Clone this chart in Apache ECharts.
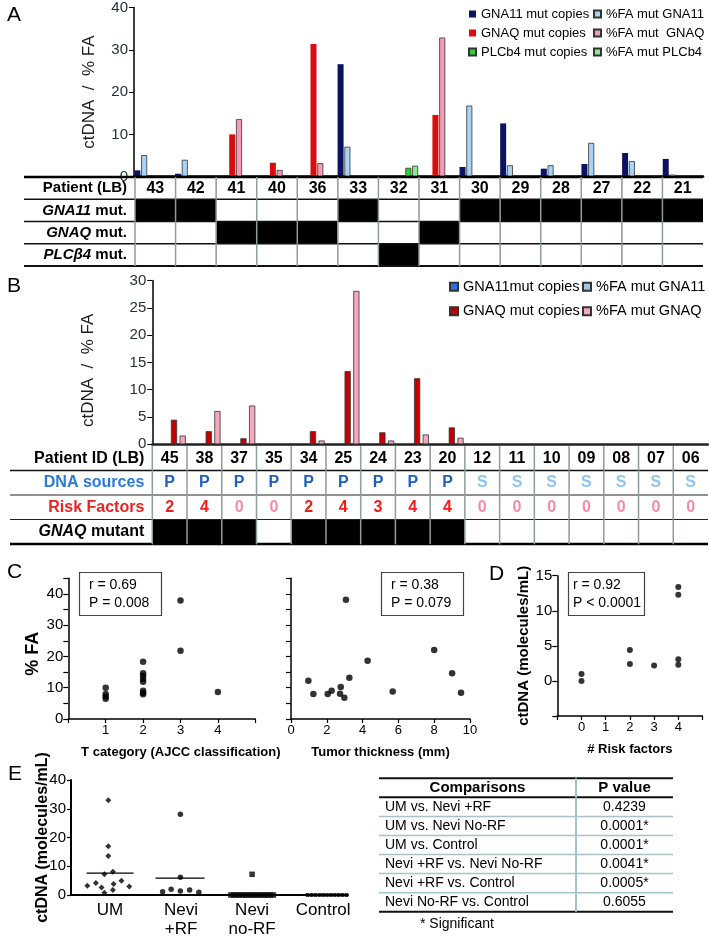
<!DOCTYPE html>
<html><head><meta charset="utf-8">
<script src="https://cdn.jsdelivr.net/npm/echarts@6/dist/echarts.min.js"></script>
<style>html,body{margin:0;padding:0;background:#fff}#c{width:709px;height:939px}</style>
</head><body><div id="c"></div>
<script>
const FONT = '"Liberation Sans", Arial, Helvetica, sans-serif';

// ---------- Panel A data ----------
const patientsA = ['43','42','41','40','36','33','32','31','30','29','28','27','22','21'];
const gna11CopiesA = [1.5,0.7,null,null,null,26.6,null,null,2.3,12.6,1.9,3.0,5.6,4.2];
const gna11FaA     = [5.1,4.0,null,null,null,7.1,null,null,16.8,2.7,2.7,8.0,3.7,0.5];
const gnaqCopiesA  = [null,null,10.0,3.3,31.4,null,null,14.6,null,null,null,null,null,null];
const gnaqFaA      = [null,null,13.6,1.6,3.2,null,null,32.9,null,null,null,null,null,null];
const plcCopiesA   = [null,null,null,null,null,null,2.1,null,null,null,null,null,null,null];
const plcFaA       = [null,null,null,null,null,null,2.6,null,null,null,null,null,null,null];
const gna11MutA = [1,1,0,0,0,1,0,0,1,1,1,1,1,1];
const gnaqMutA  = [0,0,1,1,1,0,0,1,0,0,0,0,0,0];
const plcMutA   = [0,0,0,0,0,0,1,0,0,0,0,0,0,0];
const rowLabelsA = ['Patient (LB)','{i|GNA11} mut.','{i|GNAQ} mut.','{i|PLCβ4} mut.'];

// ---------- Panel B data ----------
const patientsB = ['45','38','37','35','34','25','24','23','20','12','11','10','09','08','07','06'];
const dnaSourceB = ['P','P','P','P','P','P','P','P','P','S','S','S','S','S','S','S'];
const riskFactorsB = [2,4,0,0,2,4,3,4,4,0,0,0,0,0,0,0];
const gnaqMutB = [1,1,1,0,1,1,1,1,1,0,0,0,0,0,0,0];
const gna11CopiesB = [null,null,null,null,null,null,null,null,null,null,null,null,null,null,null,null];
const gna11FaB     = [null,null,null,null,null,null,null,null,null,null,null,null,null,null,null,null];
const gnaqCopiesB  = [4.5,2.4,1.1,null,2.4,13.4,2.2,12.1,3.1,null,null,null,null,null,null,null];
const gnaqFaB      = [1.6,6.1,7.1,null,0.7,28.1,0.7,1.8,1.2,null,null,null,null,null,null,null];
const rowLabelsB = ['Patient ID (LB)','DNA sources','Risk Factors','{i|GNAQ} mutant'];

// ---------- Panel C data ----------
const tCategoryPts = [[1,10],[1,8],[1,7.2],[1,6.5],[2,18.3],[2,14.6],[2,13.8],[2,12.8],[2,11.9],[2,9.0],[2,8.4],[2,7.9],[3,37.9],[3,21.8],[4,8.6]];
const thicknessPts = [[0.97,12.2],[1.25,8.0],[2.05,8.0],[2.27,9.0],[2.78,10.2],[2.74,8.1],[2.98,6.8],[3.07,38.1],[3.26,13.2],[4.28,18.6],[5.68,8.8],[8.0,22.1],[9.0,14.6],[9.5,8.4]];

// ---------- Panel D data ----------
const riskPts = [[0,1.0],[0,0],[2,4.4],[2,2.4],[3,2.2],[4,13.4],[4,12.3],[4,3.1],[4,2.3]];

// ---------- Panel E data ----------
const groupsE = ['UM','Nevi\n+RF','Nevi\nno-RF','Control'];
const umPts = [[0.975,33.0],[0.975,17.0],[0.975,13.6],[1.04,8.1],[0.92,7.2],[0.68,3.2],[0.80,4.2],[0.88,2.6],[1.05,3.8],[1.16,5.0],[1.27,3.0],[1.04,1.7],[0.92,0.8]];
const neviRfPts = [[1.99,28.1],[1.99,6.2],[1.74,1.1],[1.86,2.0],[1.99,1.4],[2.12,1.7],[2.25,1.0]];
const neviNoRfPts = [[3.0,7.2],[2.7,0],[2.74,0],[2.78,0],[2.82,0],[2.86,0],[2.9,0],[2.94,0],[2.98,0],[3.02,0],[3.06,0],[3.1,0],[3.14,0],[3.18,0],[3.22,0],[3.26,0],[3.3,0]];
const controlPts = [[3.78,0],[3.835,0],[3.89,0],[3.945,0],[4.0,0],[4.055,0],[4.11,0],[4.165,0],[4.22,0],[4.275,0],[4.33,0]];
const meanUM = 7.6, meanNeviRf = 5.9;
const comparisons = ['UM vs. Nevi +RF','UM vs. Nevi No-RF','UM vs. Control','Nevi +RF vs. Nevi No-RF','Nevi +RF vs. Control','Nevi No-RF vs. Control'];
const pValues = ['0.4239','0.0001*','0.0001*','0.0041*','0.0005*','0.6055'];

// ---------- helpers ----------
function cellRenderer(cells){
  return function(params, api){
    const c = cells[params.dataIndex];
    const a = api.coord([c.x0, c.r]), b = api.coord([c.x1, c.r + 1]);
    const x = a[0], y = a[1], w = b[0]-a[0], h = b[1]-a[1];
    const ch = [];
    if (c.fill) ch.push({type:'rect', z2:0, shape:{x:x, y:y, width:w, height:h}, style:{fill:c.fill}});
    if (c.text != null) {
      let tx = c.align === 'right' ? x + w - c.pad : (c.align === 'left' ? x + c.pad : x + w/2);
      ch.push({type:'text', z2:5, style:{text:c.text, x:tx, y:y + h/2 + (c.dy||0), align:c.align||'center', verticalAlign:'middle',
        fill:c.color||'#000', fontSize:c.size||15, fontWeight:c.weight||'normal', fontFamily:FONT,
        rich:{i:{fontStyle:'italic', fontWeight:c.weight||'normal', fontSize:c.size||15, fontFamily:FONT, fill:c.color||'#000'}}}});
    }
    const ln = (x1,y1,x2,y2,s) => ch.push({type:'line', z2:10, shape:{x1,y1,x2,y2}, style:{stroke:s[0], lineWidth:s[1]}});
    if (c.top) ln(x, y, x+w, y, c.top);
    if (c.bottom) ln(x, y+h, x+w, y+h, c.bottom);
    if (c.left) ln(x, y, x, y+h, c.left);
    if (c.right) ln(x+w, y, x+w, y+h, c.right);
    return {type:'group', children:ch};
  };
}
function tableSeries(idx, cells){
  return {type:'custom', xAxisIndex:idx, yAxisIndex:idx, clip:false, silent:true,
    data: cells.map(c => [c.x0, c.r]), renderItem: cellRenderer(cells), animation:false};
}

// ---------- Table A cells ----------
const cellsA = [];
const grayV = ['#8d9c9c', 1.5], blackH = ['#111', 1.5];
const rowBottomA = [blackH, blackH, blackH, ['#111', 2]];
for (let r = 0; r < 4; r++) {
  cellsA.push({x0:-2.736, x1:0, r:r, text:rowLabelsA[r], align:'right', pad:8, weight:'bold', size:15,
    top: r === 0 ? ['#000', 2.5] : null, bottom: rowBottomA[r]});
  for (let i = 0; i < patientsA.length; i++) {
    const c = {x0:i, x1:i+1, r:r, left:grayV, bottom:rowBottomA[r], top: r === 0 ? ['#000', 2.5] : null};
    if (r === 0) { c.text = patientsA[i]; c.weight = 'bold'; c.size = 16; }
    else {
      const m = r === 1 ? gna11MutA : (r === 2 ? gnaqMutA : plcMutA);
      c.fill = m[i] ? '#000' : '#fff';
    }
    cellsA.push(c);
  }
}

// ---------- Table B cells ----------
const cellsB = [];
const rowBottomB = [blackH, ['#222',1.2], ['#222',1.2], ['#000', 2.5]];
const labelColorsB = ['#000','#2a7ad8','#ec2323','#000'];
for (let r = 0; r < 4; r++) {
  cellsB.push({x0:-4.097, x1:0, r:r, text:rowLabelsB[r], align:'right', pad:8, weight:'bold', size:16,
    color:labelColorsB[r], bottom: rowBottomB[r]});
  for (let i = 0; i < patientsB.length; i++) {
    const c = {x0:i, x1:i+1, r:r, left:grayV, bottom:rowBottomB[r], weight:'bold', size:16};
    if (r === 0) { c.text = patientsB[i]; }
    else if (r === 1) { c.text = dnaSourceB[i]; c.color = dnaSourceB[i] === 'P' ? '#1d5fc4' : '#8ec5ee'; }
    else if (r === 2) { c.text = String(riskFactorsB[i]); c.color = riskFactorsB[i] > 0 ? '#ee1c1c' : '#f58ca6'; }
    else { c.fill = gnaqMutB[i] ? '#000' : '#fff'; }
    cellsB.push(c);
  }
}

// ---------- Table E cells ----------
const cellsE = [];
const lightH = ['#a9c2ca', 1.5];
for (let r = 0; r < 7; r++) {
  const top = r === 0 ? ['#111', 2] : null;
  const bottom = (r === 0 || r === 6) ? ['#111', 2] : lightH;
  if (r === 0) {
    cellsE.push({x0:0, x1:0.67, r:r, text:'Comparisons', weight:'bold', size:15, top, bottom});
    cellsE.push({x0:0.67, x1:1, r:r, text:'P value', weight:'bold', size:15, top, bottom, left:['#a9c2ca',2]});
  } else {
    cellsE.push({x0:0, x1:0.67, r:r, text:comparisons[r-1], align:'left', pad:6, size:14, bottom});
    cellsE.push({x0:0.67, x1:1, r:r, text:pValues[r-1], size:14, bottom, left:['#a9c2ca',2]});
  }
}

// ---------- axes ----------
const hiddenVal = (min, max, inverse) => ({type:'value', min, max, inverse:!!inverse, show:false, splitLine:{show:false}});
const axisLbl = (size, color) => ({fontSize:size, color:color||'#000', fontFamily:FONT});
const blackLine = (w) => ({show:true, onZero:false, lineStyle:{color:'#000', width:w||1.5}});

const grid = [
  {left:134, top:5.7, width:569, height:171},       // 0 A chart
  {left:24, top:177, width:679, height:89},         // 1 A table
  {left:152.3, top:280.5, width:555.7, height:163.8},// 2 B chart
  {left:10, top:446, width:698, height:98},         // 3 B table
  {left:68.3, top:578.3, width:187, height:140.7},  // 4 C left
  {left:291, top:578.3, width:179, height:140.7},   // 5 C right
  {left:557.3, top:575.7, width:145.2, height:140.3},// 6 D
  {left:71, top:780, width:277, height:123.7},      // 7 E
  {left:379, top:778.3, width:294, height:133.4}    // 8 E table
];

const xAxis = [
  {gridIndex:0, type:'category', data:patientsA, axisLabel:{show:false}, axisTick:{show:false}, axisLine:{show:true, lineStyle:{color:'#000', width:2.5}}},
  Object.assign({gridIndex:1}, hiddenVal(-2.736, 14)),
  {gridIndex:2, type:'category', data:patientsB, axisLabel:{show:false}, axisTick:{show:false}, axisLine:{show:true, lineStyle:{color:'#222', width:2.5}}},
  Object.assign({gridIndex:3}, hiddenVal(-4.097, 16)),
  {gridIndex:4, type:'value', min:0, max:5, interval:1, splitLine:{show:false}, axisLine:blackLine(1.5),
   axisTick:{show:true, length:4, lineStyle:{color:'#000', width:1.2}},
   axisLabel:Object.assign(axisLbl(13), {margin:5, formatter:v => (v >= 1 && v <= 4) ? v : ''}),
   name:'T category (AJCC classification)', nameLocation:'middle', nameGap:27, nameMoveOverlap:false,
   nameTextStyle:{fontSize:13, fontWeight:'bold', fontFamily:FONT, color:'#000', padding:[0,0,0,38]}},
  {gridIndex:5, type:'value', min:0, max:10, interval:2, splitLine:{show:false}, axisLine:blackLine(1.5),
   axisTick:{show:true, length:4, lineStyle:{color:'#000', width:1.2}},
   axisLabel:Object.assign(axisLbl(13), {margin:5}),
   name:'Tumor thickness (mm)', nameLocation:'middle', nameGap:27, nameMoveOverlap:false,
   nameTextStyle:{fontSize:13, fontWeight:'bold', fontFamily:FONT, color:'#000'}},
  {gridIndex:6, type:'value', min:-1, max:5, interval:1, splitLine:{show:false}, axisLine:blackLine(1.5),
   axisTick:{show:true, length:4, lineStyle:{color:'#000', width:1.2}},
   axisLabel:Object.assign(axisLbl(13), {margin:5, formatter:v => (v >= 0 && v <= 4) ? v : ''}),
   name:'# Risk factors', nameLocation:'middle', nameGap:27, nameMoveOverlap:false,
   nameTextStyle:{fontSize:13, fontWeight:'bold', fontFamily:FONT, color:'#000'}},
  {gridIndex:7, type:'value', min:0.45, max:4.35, splitLine:{show:false}, axisLine:blackLine(2),
   axisTick:{show:false},
   axisLabel:Object.assign(axisLbl(17), {margin:6, lineHeight:19, customValues:[1,2,3,4], formatter:v => groupsE[Math.round(v)-1]})},
  Object.assign({gridIndex:8}, hiddenVal(0, 1))
];

const yAxis = [
  {gridIndex:0, type:'value', min:0, max:40, interval:10, splitLine:{show:false},
   axisLine:{show:true, lineStyle:{color:'#000', width:1.5}}, axisTick:{show:true, length:5, lineStyle:{color:'#000'}},
   axisLabel:Object.assign(axisLbl(15, '#23313a'), {margin:6}),
   name:'ctDNA  /  % FA', nameLocation:'middle', nameGap:36, nameTextStyle:{fontSize:17, color:'#1c1c1c', fontFamily:FONT}},
  Object.assign({gridIndex:1}, hiddenVal(0, 4, true)),
  {gridIndex:2, type:'value', min:0, max:30, interval:5, splitLine:{show:false},
   axisLine:{show:true, lineStyle:{color:'#000', width:1.5}}, axisTick:{show:true, length:5, lineStyle:{color:'#000'}},
   axisLabel:Object.assign(axisLbl(15, '#23313a'), {margin:6}),
   name:'ctDNA  /  % FA', nameLocation:'middle', nameGap:55, nameTextStyle:{fontSize:17, color:'#1c1c1c', fontFamily:FONT, padding:[0,0,0,-16]}},
  Object.assign({gridIndex:3}, hiddenVal(0, 4, true)),
  {gridIndex:4, type:'value', min:0, max:45, interval:5, splitLine:{show:false}, axisLine:blackLine(1.5),
   axisTick:{show:true, length:5, lineStyle:{color:'#000', width:1.2}},
   axisLabel:Object.assign(axisLbl(15), {margin:5, formatter:v => v % 10 === 0 ? v : ''}),
   name:'% FA', nameLocation:'middle', nameGap:26, nameTextStyle:{fontSize:18, fontWeight:'bold', color:'#000', fontFamily:FONT, padding:[0,0,0,-10]}},
  {gridIndex:5, type:'value', min:0, max:45, interval:5, splitLine:{show:false}, axisLine:blackLine(1.5),
   axisTick:{show:true, length:5, lineStyle:{color:'#000', width:1.2}}, axisLabel:{show:false}},
  {gridIndex:6, type:'value', min:-5, max:15, interval:5, splitLine:{show:false}, axisLine:blackLine(1.5),
   axisTick:{show:true, length:5, lineStyle:{color:'#000', width:1.2}},
   axisLabel:Object.assign(axisLbl(15), {margin:5, formatter:v => v >= 0 ? v : ''}),
   name:'ctDNA (molecules/mL)', nameLocation:'middle', nameGap:26, nameTextStyle:{fontSize:15, fontWeight:'bold', color:'#000', fontFamily:FONT}},
  {gridIndex:7, type:'value', min:0, max:40, interval:10, splitLine:{show:false}, axisLine:blackLine(2),
   axisTick:{show:true, length:4, lineStyle:{color:'#000', width:1.2}},
   axisLabel:Object.assign(axisLbl(15), {margin:5}),
   name:'ctDNA (molecules/mL)', nameLocation:'middle', nameGap:20, nameMoveOverlap:false,
   nameTextStyle:{fontSize:16, fontWeight:'bold', color:'#000', fontFamily:FONT}},
  Object.assign({gridIndex:8}, hiddenVal(0, 7, true))
];

const barA = (name, data, color, border) => ({type:'bar', name, data, xAxisIndex:0, yAxisIndex:0, barWidth:6, barGap:'13%',
  itemStyle:{color, borderColor:border ? '#333' : color, borderWidth:border ? 0.8 : 0}});
const barB = (name, data, color, border) => ({type:'bar', name, data, xAxisIndex:2, yAxisIndex:2, barWidth:6.2, barGap:'40%',
  itemStyle:{color, borderColor:border ? '#333' : color, borderWidth:border ? 0.8 : 0}});
const scat = (idx, data, symbol, size) => ({type:'scatter', xAxisIndex:idx, yAxisIndex:idx, data, symbol, symbolSize:size, itemStyle:{color:'#000'}, silent:true, z:3});

const series = [
  barA('GNA11 mut copies', gna11CopiesA, '#0c1262', false),
  barA('%FA mut GNA11', gna11FaA, '#a9d4f3', true),
  barA('GNAQ mut copies', gnaqCopiesA, '#d90d0d', false),
  barA('%FA mut  GNAQ', gnaqFaA, '#f59bb4', true),
  barA('PLCb4 mut copies', plcCopiesA, '#32cf32', true),
  barA('%FA mut PLCb4', plcFaA, '#8deb8d', true),
  tableSeries(1, cellsA),
  barB('GNA11mut copies', gna11CopiesB, '#2f6fe6', true),
  barB('%FA mut GNA11 ', gna11FaB, '#a6c4da', true),
  barB('GNAQ mut copies ', gnaqCopiesB, '#c40000', true),
  barB('%FA mut GNAQ', gnaqFaB, '#f6a7be', true),
  tableSeries(3, cellsB),
  scat(4, tCategoryPts, 'circle', 6.5),
  scat(5, thicknessPts, 'circle', 6.5),
  scat(6, riskPts, 'circle', 6),
  scat(7, umPts, 'diamond', 6),
  scat(7, neviRfPts, 'circle', 5.5),
  scat(7, neviNoRfPts, 'rect', 5.5),
  scat(7, controlPts, 'rect', [3.5, 4]),
  {type:'line', xAxisIndex:7, yAxisIndex:7, data:[[1 - 0.33, meanUM],[1 + 0.33, meanUM]], symbol:'none', lineStyle:{color:'#000', width:1.2}, silent:true},
  {type:'line', xAxisIndex:7, yAxisIndex:7, data:[[2 - 0.36, meanNeviRf],[2 + 0.33, meanNeviRf]], symbol:'none', lineStyle:{color:'#000', width:1.2}, silent:true},
  tableSeries(8, cellsE)
];

const legendText = (size) => ({fontSize:size, color:'#000', fontFamily:FONT, lineHeight:size+1});
const legend = [
  {left:468, top:7, padding:0, orient:'vertical', itemWidth:7, itemHeight:7, itemGap:5, textStyle:legendText(13), icon:'rect',
   data:['GNA11 mut copies','GNAQ mut copies','PLCb4 mut copies'], selectedMode:false},
  {left:593, top:7, padding:0, orient:'vertical', itemWidth:7, itemHeight:7, itemGap:5, textStyle:legendText(13), icon:'rect',
   data:['%FA mut GNA11','%FA mut  GNAQ','%FA mut PLCb4'], selectedMode:false},
  {left:449, top:279, padding:0, orient:'vertical', itemWidth:8, itemHeight:8, itemGap:9, textStyle:legendText(14.5), icon:'rect',
   data:['GNA11mut copies','GNAQ mut copies '], selectedMode:false},
  {left:582, top:279, padding:0, orient:'vertical', itemWidth:8, itemHeight:8, itemGap:9, textStyle:legendText(14.5), icon:'rect',
   data:['%FA mut GNA11 ','%FA mut GNAQ'], selectedMode:false}
];

const letter = (t, left, top) => ({text:t, left, top, padding:0, textStyle:{fontSize:21, fontWeight:'normal', color:'#000', fontFamily:FONT}});
const box = (t, left, top, pad, size) => ({text:t, left, top, padding:pad, borderColor:'#444', borderWidth:1.2,
  textStyle:{fontSize:size, fontWeight:'normal', color:'#000', fontFamily:FONT, lineHeight:18}});
const title = [
  letter('A', 7, 5), letter('B', 7, 276), letter('C', 7, 562), letter('D', 489, 564), letter('E', 8, 764),
  box('r = 0.69\nP = 0.008', 79, 572, [4,12,4,10], 14),
  box('r = 0.38\nP = 0.079', 381, 572, [4,12,4,10], 14),
  box('r = 0.92\nP < 0.0001', 568, 572, [4,4,4,5], 14),
  {text:'* Significant', left:420, top:917, padding:0, textStyle:{fontSize:14, fontWeight:'normal', color:'#000', fontFamily:FONT}}
];

const chart = echarts.init(document.getElementById('c'), null, {renderer:'canvas'});
chart.setOption({animation:false, backgroundColor:'#fff', title, legend, grid, xAxis, yAxis, series});
</script></body></html>
